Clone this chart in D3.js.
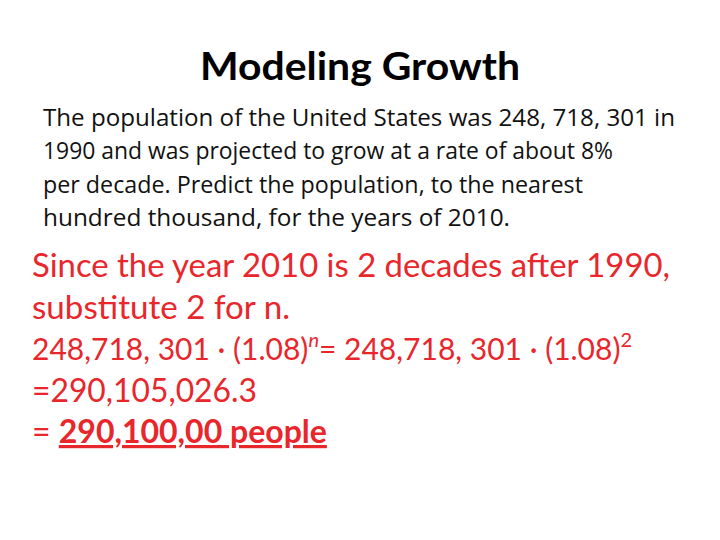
<!DOCTYPE html>
<html><head><meta charset="utf-8">
<script src="https://cdn.jsdelivr.net/npm/d3@7"></script>
<style>body{margin:0;background:#fff}</style>
</head><body>
<script>
const title = "Modeling Growth";
const bodyLines = [
  "The population of the United States was 248, 718, 301 in",
  "1990 and was projected to grow at a rate of about 8%",
  "per decade. Predict the population, to the nearest",
  "hundred thousand, for the years of 2010."
];
const redLines = [
  "Since the year 2010 is 2 decades after 1990,",
  "substitute 2 for n.",
  null,
  "=290,105,026.3",
  null
];
const red = "#e8262b";
const svg = d3.select("body").append("svg").attr("width",720).attr("height",540);
svg.append("text").attr("x",360).attr("y",80).attr("text-anchor","middle")
  .attr("font-family","Lato, sans-serif").attr("font-weight","bold").attr("font-size",39)
  .attr("textLength",320).attr("lengthAdjust","spacingAndGlyphs").text(title);
const yb = d3.scalePoint().domain(d3.range(bodyLines.length)).range([126,226]);
svg.selectAll(".b").data(bodyLines).join("text").attr("x",43).attr("y",(d,i)=>yb(i))
  .attr("font-family","Open Sans, sans-serif").attr("font-size",23).attr("fill","#111")
  .attr("textLength",(d,i)=>[632,570,540,467][i]).attr("lengthAdjust","spacingAndGlyphs").text(d=>d);
const yr = d3.scalePoint().domain(d3.range(redLines.length)).range([277,443]);
const g = svg.append("g").attr("font-family","Lato, sans-serif").attr("fill",red);
const rl = [638,258,0,225,0];
redLines.forEach((d,i)=>{ if(d) g.append("text").attr("x",32).attr("y",yr(i)).attr("font-size",32)
  .attr("textLength",rl[i]).attr("lengthAdjust","spacingAndGlyphs").text(d); });
const m = g.append("text").attr("x",32).attr("y",yr(2)).attr("font-size",30);
m.append("tspan").text("248,718, 301 · (1.08)");
m.append("tspan").attr("dy",-13).attr("font-size",20).attr("font-style","italic").text("n");
m.append("tspan").attr("dy",13).text("= 248,718, 301 · (1.08)");
m.append("tspan").attr("dy",-13).attr("font-size",20).text("2");
const l = g.append("text").attr("x",32).attr("y",yr(4)).attr("font-size",32);
l.append("tspan").text("= ");
l.append("tspan").attr("font-weight","bold").attr("text-decoration","underline").text("290,100,00 people");
</script>
</body></html>
